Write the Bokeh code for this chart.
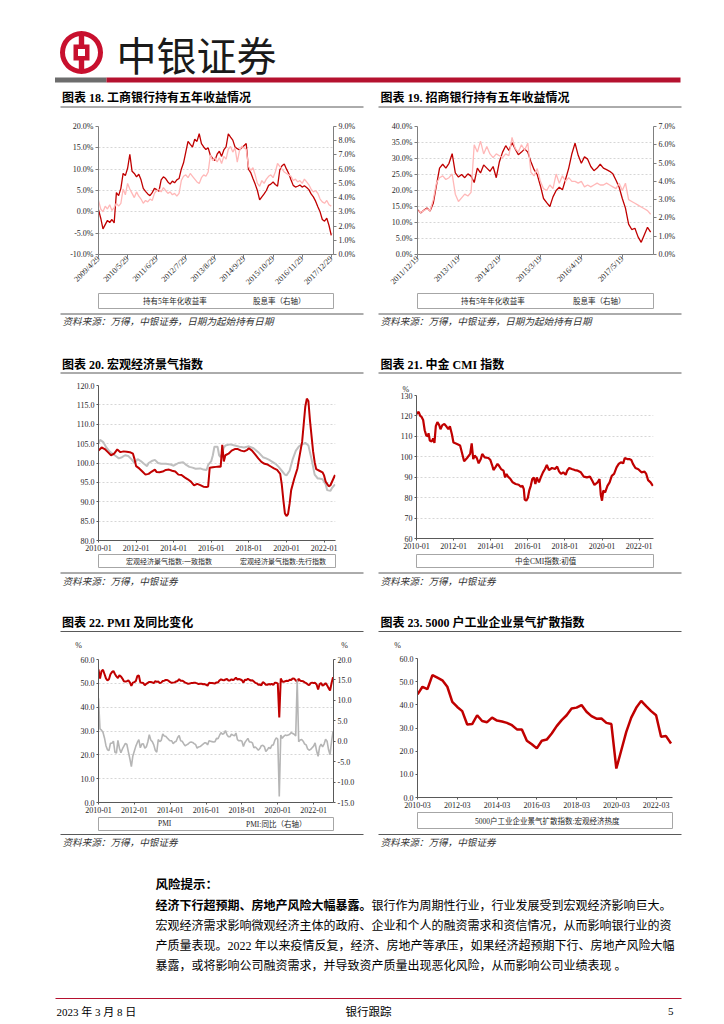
import math
from bokeh.plotting import figure
from bokeh.models import Range1d, LinearAxis, FixedTicker, Legend, LegendItem, PrintfTickFormatter, Title
from bokeh.layouts import column, row
from bokeh.core.properties import value
from bokeh.embed import file_html
from bokeh.resources import INLINE

# ---------------- data ----------------
# Fig 18: ICBC, monthly from 2009/4/29
icbc_ticks = ["2009/4/29", "2010/5/29", "2011/6/29", "2012/7/29", "2013/8/29",
              "2014/9/29", "2015/10/29", "2016/11/29", "2017/12/29"]
icbc_return = [0.5, -1.5, -4.0, -3.0, -2.0, -2.5, -1.8, -2.6, 4.5, 3.8,
               5.5, 9.0, 8.5, 10.2, 13.5, 9.5, 9.0, 8.2, 8.8, 7.5,
               5.5, 4.8, 4.2, 3.8, 4.5, 5.5, 5.2, 4.8, 7.5, 8.2,
               7.8, 7.0, 6.5, 7.2, 6.8, 7.5, 7.8, 10.0, 11.5, 14.0,
               16.5, 15.8, 15.2, 17.0, 16.5, 18.3, 16.0, 15.2, 14.6, 15.0,
               13.2, 12.5, 12.0, 13.5, 14.2, 13.0, 14.5, 15.2, 18.3, 17.5,
               16.8, 15.2, 14.8, 14.5, 15.0, 15.5, 16.0, 10.0, 9.2, 7.8,
               6.5, 5.0, 2.8, 3.5, 4.2, 5.0, 6.2, 6.5, 7.0, 6.4,
               6.0, 9.8, 10.8, 11.2, 10.0, 9.0, 7.5, 6.2, 5.8, 6.0,
               6.3, 5.8, 6.1, 5.7, 5.2, 4.2, 3.5, 2.5, 1.2, 0.0,
               -1.8, -2.2, -1.5, -3.2, -5.5]
icbc_yield = [3.8, 3.2, 3.0, 3.4, 3.2, 3.5, 3.1, 3.3, 3.6, 3.4,
              3.6, 4.6, 4.2, 5.0, 4.6, 4.3, 4.0, 4.4, 4.1, 3.9,
              3.6, 3.8, 3.7, 3.9, 3.8, 4.3, 4.5, 4.6, 4.4, 4.7,
              4.5, 4.3, 4.4, 4.2, 4.3, 4.1, 4.3, 5.2, 5.5, 5.6,
              5.4, 5.7, 5.5, 5.3, 5.1, 5.0, 5.4, 5.6, 5.5, 5.8,
              7.0, 6.6, 6.8, 6.5, 6.8, 6.4, 6.9, 6.7, 7.4, 7.6,
              7.2, 7.5, 6.5, 7.3, 7.6, 7.5, 7.4, 6.2, 5.9, 6.1,
              5.6, 5.0, 4.8, 5.2, 5.0, 5.3, 5.5, 5.6, 5.4, 5.8,
              6.4, 6.2, 6.0, 5.8, 5.7, 5.6, 5.5, 5.2, 5.3, 5.1,
              5.2, 5.0, 5.3, 5.1, 4.9, 4.6, 4.4, 4.5, 4.3, 3.9,
              3.7, 3.6, 3.8, 3.5, 3.4]

# Fig 19: CMB, monthly from 2011/12/19
cmb_ticks = ["2011/12/19", "2013/1/19", "2014/2/19", "2015/3/19", "2016/4/19", "2017/5/19"]
cmb_return = [14.0, 13.0, 13.8, 14.5, 13.6, 16.0, 21.5, 27.0, 28.2, 27.0,
              28.5, 31.5, 25.5, 24.2, 25.0, 24.0, 25.2, 24.5, 22.5, 27.0,
              25.5, 28.0, 27.0, 26.0, 27.5, 24.0, 29.0, 32.0, 34.0, 32.5,
              35.0, 33.0, 31.2, 32.0, 33.0, 32.0, 29.0, 26.5, 25.0, 21.5,
              17.5, 16.2, 15.0, 18.0, 20.0, 21.0, 20.2, 23.5, 27.0, 31.5,
              34.8, 31.0, 28.5, 30.5, 29.8, 27.5, 26.2, 27.0, 28.2, 27.0,
              26.5, 26.0, 25.2, 23.2, 21.0, 17.5, 14.5, 9.5, 7.8, 8.2,
              5.5, 3.8, 6.2, 8.5, 7.0]
cmb_yield = [2.4, 2.3, 2.4, 2.5, 2.4, 3.0, 3.9, 4.2, 4.3, 4.1,
             4.2, 4.4, 3.3, 2.9, 3.1, 3.3, 3.2, 3.4, 6.0, 5.6,
             6.2, 5.5, 5.9, 5.5, 5.3, 5.5, 5.4, 5.3, 5.5, 5.4,
             6.4, 5.8, 5.6, 6.0, 5.7, 6.1, 4.5, 4.3, 4.7, 4.0,
             3.6, 3.5, 3.8, 3.6, 4.4, 3.9, 4.3, 4.0, 4.2, 4.0,
             4.0, 3.9, 4.0, 3.7, 3.8, 3.7, 3.8, 3.9, 3.8, 3.8,
             3.9, 3.8, 3.7, 3.6, 3.9, 3.5, 3.9, 3.0, 2.9, 2.8,
             2.7, 2.6, 2.5, 2.4, 2.2]

# Year tick labels (monthly index 0 = 2010-01)
ticks_jan = ["2010-01", "2012-01", "2014-01", "2016-01", "2018-01", "2020-01", "2022-01"]
ticks_mar = ["2010-03", "2012-03", "2014-03", "2016-03", "2018-03", "2020-03", "2022-03"]

# Fig 20: macro climate index, (months since 2010-01, value)
cei_coincident = [(0, 103.2), (2, 104.0), (4, 103.6), (6, 102.8), (8, 102.0), (10, 102.4), (12, 103.5),
                  (14, 102.8), (16, 103.0), (18, 102.9), (20, 102.8), (22, 102.4), (23, 101.0), (24, 99.2),
                  (26, 98.6), (28, 97.8), (30, 97.0), (32, 97.2), (34, 97.8), (36, 98.3), (37, 97.7),
                  (39, 97.6), (41, 97.8), (43, 98.2), (45, 98.3), (47, 98.0), (49, 97.8), (51, 97.0),
                  (53, 96.9), (55, 96.3), (57, 95.8), (59, 95.2), (61, 94.2), (63, 94.6), (65, 94.3),
                  (67, 93.9), (69, 93.8), (70, 93.9), (71, 98.8), (73, 98.9), (75, 99.0), (77, 99.1),
                  (78, 99.0), (79, 104.7), (80, 100.4), (81, 102.0), (83, 102.4), (85, 103.2), (87, 103.6),
                  (89, 103.6), (91, 103.2), (93, 103.0), (95, 103.4), (96, 103.8), (98, 103.2), (100, 102.2),
                  (102, 101.2), (104, 100.3), (106, 99.8), (108, 99.6), (110, 99.1), (112, 98.6), (114, 98.2),
                  (116, 97.2), (117, 94.5), (118, 90.5), (119, 87.0), (120, 86.3), (121, 86.8), (122, 89.5),
                  (123, 93.0), (125, 96.0), (127, 98.6), (128, 101.0), (130, 105.5), (131, 110.0), (132, 114.5),
                  (133, 116.6), (134, 116.0), (135, 111.0), (137, 103.0), (138, 100.2), (139, 98.4), (141, 98.0),
                  (143, 97.6), (144, 96.8), (145, 95.2), (147, 94.0), (148, 94.2), (150, 96.0), (151, 96.9)]
cei_leading = [(0, 105.0), (1, 106.0), (3, 105.4), (5, 104.0), (7, 103.0), (9, 102.4), (11, 101.8),
               (13, 101.2), (15, 101.5), (17, 102.0), (19, 101.8), (21, 101.0), (23, 100.0), (25, 101.0),
               (27, 100.5), (29, 99.8), (31, 99.2), (32, 100.0), (34, 100.5), (36, 100.8), (38, 100.0),
               (40, 99.8), (43, 99.8), (46, 99.6), (48, 99.3), (51, 100.0), (54, 100.2), (56, 99.5),
               (58, 99.0), (60, 98.8), (62, 98.5), (65, 98.6), (67, 98.3), (69, 98.2), (70, 99.5),
               (72, 100.5), (73, 102.0), (74, 104.2), (76, 104.2), (77, 102.0), (78, 101.5), (79, 102.5),
               (80, 104.0), (81, 104.5), (84, 104.8), (87, 104.5), (90, 104.2), (93, 104.0), (96, 104.3),
               (99, 103.8), (102, 102.8), (105, 101.5), (107, 101.2), (109, 100.8), (111, 100.3), (113, 99.8),
               (115, 99.0), (117, 98.0), (119, 97.0), (120, 96.8), (122, 98.0), (124, 101.0), (126, 103.2),
               (128, 104.3), (130, 104.8), (132, 105.2), (134, 104.5), (136, 101.0), (138, 97.0), (140, 96.0),
               (141, 96.0), (143, 95.8), (145, 94.5), (146, 93.0), (148, 92.8), (149, 93.5), (151, 94.5)]

# Fig 21: CICC CMI index, (months since 2010-01, value)
cmi = [(0, 121.0), (1.4, 122.0), (2.4, 120.0), (3.3, 119.5), (4.3, 118.0), (5.3, 113.0), (6.3, 110.5),
       (7.3, 110.0), (7.8, 111.5), (8.6, 108.0), (9.8, 107.5), (10.8, 109.0), (11.6, 106.8), (12.5, 115.0),
       (13.5, 117.0), (14.7, 115.5), (15.5, 113.5), (16.7, 115.5), (18, 116.0), (19.4, 114.8), (20.6, 113.5),
       (21.6, 115.0), (22.9, 111.0), (23.9, 107.0), (25.5, 106.5), (26.9, 106.0), (28.2, 105.5), (29.4, 102.0),
       (30.8, 97.8), (32.7, 99.4), (34.7, 101.4), (35.7, 106.6), (36.7, 98.9), (37.6, 100.6), (39, 99.4),
       (40.2, 96.8), (41.6, 98.9), (42.5, 101.4), (44.1, 99.7), (46.5, 99.4), (47.8, 98.4), (49, 95.7),
       (49.8, 93.5), (51, 94.8), (52.4, 96.5), (53.3, 95.7), (54.7, 94.0), (56.3, 93.2), (57.3, 89.9),
       (58.2, 91.6), (59.2, 90.3), (60.8, 89.1), (62.2, 87.5), (64.1, 86.7), (66.1, 86.3), (67.5, 85.3),
       (68.6, 85.8), (69.4, 84.2), (70, 79.0), (71, 78.5), (72, 79.8), (72.9, 83.4), (73.9, 85.8),
       (74.9, 89.1), (75.9, 89.9), (76.9, 86.7), (77.8, 89.9), (79.2, 87.5), (80.4, 89.9), (81.8, 92.4),
       (83.1, 94.0), (84.3, 96.0), (85.7, 93.5), (87.6, 94.5), (89.6, 94.0), (91, 95.2), (92.2, 92.9),
       (93.5, 91.6), (94.9, 92.4), (96.5, 91.2), (97.5, 93.2), (98.8, 94.5), (100.4, 94.0), (102.4, 93.5),
       (104.3, 93.2), (106.3, 92.4), (108.2, 90.3), (110.2, 89.9), (112.2, 90.3), (113.7, 88.3), (115.1, 86.2),
       (117.1, 87.5), (118.4, 89.1), (119.2, 81.4), (120, 78.5), (120.8, 83.4), (122, 82.6), (123.5, 85.8),
       (124.9, 87.5), (126.3, 90.7), (127.8, 91.6), (129.4, 94.8), (130.8, 96.5), (132.2, 97.3), (133.7, 96.8),
       (134.7, 99.4), (136.3, 98.9), (137.6, 98.9), (139, 98.4), (140, 96.5), (141.6, 94.5), (143.5, 93.9),
       (145.5, 92.4), (147.5, 92.7), (148.6, 91.6), (149.8, 88.6), (151.4, 87.5), (152.9, 85.8)]

# Fig 22: PMI monthly 2010-01 .. 2023-02 and its YoY change (right axis)
pmi = [55.8, 52.0, 55.1, 55.7, 53.9, 52.1, 51.2, 51.7, 53.8, 54.7, 55.2, 53.9,
       52.9, 52.2, 53.4, 52.9, 52.0, 50.9, 50.7, 50.9, 51.2, 50.4, 49.0, 50.3,
       50.5, 51.0, 53.1, 53.3, 50.4, 50.2, 50.1, 49.2, 49.8, 50.2, 50.6, 50.6,
       50.4, 50.1, 50.9, 50.6, 50.8, 50.1, 50.3, 51.0, 51.1, 51.4, 51.4, 51.0,
       50.5, 50.2, 50.3, 50.4, 50.8, 51.0, 51.7, 51.1, 51.1, 50.8, 50.3, 50.1,
       49.8, 49.9, 50.1, 50.1, 50.2, 50.2, 50.0, 49.7, 49.8, 49.8, 49.6, 49.7,
       49.4, 49.0, 50.2, 50.1, 50.1, 50.0, 49.9, 50.4, 50.4, 51.2, 51.7, 51.4,
       51.3, 51.6, 51.8, 51.2, 51.2, 51.7, 51.4, 51.7, 52.4, 51.6, 51.8, 51.6,
       51.3, 50.3, 51.5, 51.4, 51.9, 51.5, 51.2, 51.3, 50.8, 50.2, 50.0, 49.4,
       49.5, 49.2, 50.5, 50.1, 49.4, 49.4, 49.7, 49.5, 49.8, 49.3, 50.2, 50.2,
       50.0, 35.7, 52.0, 50.8, 50.6, 50.9, 51.1, 51.0, 51.5, 51.4, 52.1, 51.9,
       51.3, 50.6, 51.9, 51.1, 51.0, 50.9, 50.4, 50.1, 49.6, 49.2, 50.1, 50.3,
       50.1, 50.2, 49.5, 47.4, 49.6, 50.2, 49.0, 49.4, 50.1, 49.2, 48.0, 47.0,
       50.1, 52.6]
pmi_yoy = [10.5, 3.0, 2.7, 2.2, 0.8, -1.1, -2.1, -2.3, -0.5, -0.5, 0.0, -2.7,
           -2.9, 0.2, -1.7, -2.8, -1.9, -1.2, -0.5, -0.8, -2.6, -4.3, -6.2, -3.6,
           -2.4, -1.2, -0.3, 0.4, -1.6, -0.7, -0.6, -1.7, -1.4, -0.2, 1.6, 0.3,
           -0.1, -0.9, -2.2, -2.7, 0.4, -0.1, 0.2, 1.8, 1.3, 1.2, 0.8, 0.4,
           0.1, 0.1, -0.6, -0.2, 0.0, 0.9, 1.4, 0.1, 0.0, -0.6, -1.1, -0.9,
           -0.7, -0.3, -0.2, -0.3, -0.6, -0.8, -1.7, -1.4, -1.3, -1.0, -0.7, -0.4,
           -0.4, -0.9, 0.1, 0.0, -0.1, -0.2, -0.1, 0.7, 0.6, 1.4, 2.1, 1.7,
           1.9, 2.6, 1.6, 1.1, 1.1, 1.7, 1.5, 1.3, 2.0, 0.4, 0.1, 0.2,
           0.0, -1.3, -0.3, 0.2, 0.7, -0.2, -0.2, -0.4, -1.6, -1.4, -1.8, -2.2,
           -1.8, -1.1, -1.0, -1.3, -2.5, -2.1, -1.5, -1.8, -1.0, -0.9, 0.2, 0.8,
           0.5, -13.5, 1.5, 0.7, 1.2, 1.5, 1.4, 1.5, 1.7, 2.1, 1.9, 1.7,
           1.3, 14.9, -0.1, 0.3, 0.4, 0.0, -0.7, -0.9, -1.9, -2.2, -2.0, -1.6,
           -1.2, -0.4, -2.4, -3.7, -1.4, -0.7, -1.4, -0.7, 0.5, 0.0, -2.1, -3.3,
           0.0, 2.4]

# Fig 23: 5000 industrial enterprises diffusion index, quarterly 2010Q1 .. 2022Q4
diffusion = [44.5, 47.8, 46.8, 52.8, 51.7, 50.6, 47.8, 41.3, 39.1, 37.3,
             31.5, 31.7, 35.5, 33.0, 32.5, 34.5, 33.2, 32.8, 32.2, 31.2,
             29.4, 29.4, 24.5, 23.0, 21.2, 24.5, 25.0, 27.6, 30.8, 33.4,
             35.5, 38.4, 38.8, 39.9, 37.0, 35.1, 34.0, 34.1, 32.2, 31.7,
             12.5, 20.4, 28.3, 34.5, 38.7, 41.7, 39.4, 37.3, 35.5, 26.2,
             26.5, 23.3]

# ---------------- styling ----------------
SERIF = "Liberation Serif, Noto Sans CJK SC"
CJK = "Noto Sans CJK SC"
RED = "#c00000"
PINK = "#ffb8b8"
GRAY = "#bfbfbf"
AX = "#7f7f7f"
TXT = "#262626"
LW, RW = 362, 346   # widths of left / right page columns


def style_axis(ax, color=AX, size="8px", tick_out=3):
    ax.axis_line_color = color
    ax.major_tick_line_color = color
    ax.major_tick_out = tick_out
    ax.major_tick_in = 0
    ax.minor_tick_line_color = None
    ax.major_label_text_font = SERIF
    ax.major_label_text_font_size = size
    ax.major_label_text_color = TXT
    ax.major_label_standoff = 2


def chart(w, h, l, r, t, b, xr, yr, grid=True):
    p = figure(width=w, height=h, x_range=Range1d(*xr), y_range=Range1d(*yr),
               output_backend="svg", toolbar_location=None,
               min_border_left=l, min_border_right=r, min_border_top=t, min_border_bottom=b)
    p.outline_line_color = None
    p.xgrid.visible = False
    if grid:
        p.ygrid.grid_line_color = "#cccccc"
        p.ygrid.grid_line_dash = "2 2"
        p.ygrid.grid_line_width = 0.8
    else:
        p.ygrid.visible = False
    return p


def legend_fig(w, h, l, r, t, b, entries, vx, label_w, spacing, size):
    f = figure(width=w, height=h, x_range=Range1d(0, 1), y_range=Range1d(0, 1),
               x_axis_type=None, y_axis_type=None, output_backend="svg", toolbar_location=None,
               min_border_left=l, min_border_right=r, min_border_top=t, min_border_bottom=b)
    f.outline_line_color = "#a6a6a6"
    f.outline_line_width = 1
    f.grid.visible = False
    items = []
    for text, color, lw in entries:
        rr = f.line(x=[], y=[], line_color=color, line_width=lw)
        items.append(LegendItem(label=value(text), renderers=[rr]))
    fh = h - t - b
    lg = Legend(items=items, orientation="horizontal", location=(vx, (fh - 11) / 2.0),
                padding=0, margin=0, spacing=spacing, label_standoff=2,
                glyph_width=16, glyph_height=11, label_height=11, label_width=label_w,
                border_line_color=None, background_fill_alpha=0,
                label_text_font=SERIF, label_text_font_size=size, label_text_color=TXT)
    f.add_layout(lg, "center")
    return f


def canvas(y0, y1):
    c = figure(width=708, height=y1 - y0, x_range=Range1d(0, 708), y_range=Range1d(y1, y0),
               x_axis_type=None, y_axis_type=None, output_backend="svg", toolbar_location=None,
               min_border=0)
    c.outline_line_color = None
    c.grid.visible = False
    return c


def put(c, x, y, s, size, style="normal", color="#000000", align="left", font=SERIF):
    c.text(x=[x], y=[y], text=[s], text_font=value(font), text_font_size=value(size),
           text_font_style=style, text_color=color, text_align=align, text_baseline="middle")


def hline(c, x0, x1, y, color="#595959", width=1.0):
    c.segment(x0=[x0], y0=[y], x1=[x1], y1=[y], line_color=color, line_width=width)


# ---------------- Fig 18 ----------------
p18 = chart(LW, 182, 98, 29, 16, 33, (0, 105), (-10, 20))
p18.extra_y_ranges = {"right": Range1d(0, 9)}
m18 = list(range(len(icbc_return)))
p18.line(m18, icbc_return, line_color=RED, line_width=1.3)
p18.line(m18, icbc_yield, line_color=PINK, line_width=1.3, y_range_name="right")
p18.yaxis.ticker = FixedTicker(ticks=[-10, -5, 0, 5, 10, 15, 20])
p18.yaxis.formatter = PrintfTickFormatter(format="%.1f%%")
r18 = LinearAxis(y_range_name="right", ticker=FixedTicker(ticks=list(range(0, 10))),
                 formatter=PrintfTickFormatter(format="%.1f%%"))
p18.add_layout(r18, "right")
t18 = [13 * i for i in range(len(icbc_ticks))]
p18.xaxis.ticker = FixedTicker(ticks=t18)
p18.xaxis.major_label_overrides = dict(zip(t18, icbc_ticks))
p18.xaxis.major_label_orientation = math.pi / 4
for ax in p18.axis:
    style_axis(ax)
p18.xaxis.major_label_standoff = 0
leg18 = legend_fig(LW, 18, 98, 29, 1, 2,
                   [("持有5年年化收益率", RED, 2), ("股息率（右轴）", PINK, 2)],
                   27, 70, 22, "7.5px")

# ---------------- Fig 19 ----------------
p19 = chart(RW, 182, 52, 54, 16, 33, (0, 74.9), (0, 40))
p19.extra_y_ranges = {"right": Range1d(0, 7)}
m19 = list(range(len(cmb_return)))
p19.line(m19, cmb_return, line_color=RED, line_width=1.3)
p19.line(m19, cmb_yield, line_color=PINK, line_width=1.3, y_range_name="right")
p19.yaxis.ticker = FixedTicker(ticks=list(range(0, 45, 5)))
p19.yaxis.formatter = PrintfTickFormatter(format="%.1f%%")
r19 = LinearAxis(y_range_name="right", ticker=FixedTicker(ticks=list(range(0, 8))),
                 formatter=PrintfTickFormatter(format="%.1f%%"))
p19.add_layout(r19, "right")
t19 = [13 * i for i in range(len(cmb_ticks))]
p19.xaxis.ticker = FixedTicker(ticks=t19)
p19.xaxis.major_label_overrides = dict(zip(t19, cmb_ticks))
p19.xaxis.major_label_orientation = math.pi / 4
for ax in p19.axis:
    style_axis(ax)
p19.xaxis.major_label_standoff = 0
leg19 = legend_fig(RW, 18, 55, 55, 1, 2,
                   [("持有5年年化收益率", RED, 2), ("股息率（右轴）", PINK, 2)],
                   26, 70, 24, "7.5px")

# ---------------- Fig 20 ----------------
p20 = chart(LW, 179, 93, 12, 10, 14, (0, 151.3), (80, 120))
p20.line([m for m, v in cei_leading], [v for m, v in cei_leading], line_color=GRAY, line_width=2)
p20.line([m for m, v in cei_coincident], [v for m, v in cei_coincident], line_color=RED, line_width=2)
p20.yaxis.ticker = FixedTicker(ticks=list(range(80, 125, 5)))
p20.yaxis.formatter = PrintfTickFormatter(format="%.1f")
tj = [24 * i for i in range(len(ticks_jan))]
p20.xaxis.ticker = FixedTicker(ticks=tj)
p20.xaxis.major_label_overrides = dict(zip(tj, ticks_jan))
for ax in p20.axis:
    style_axis(ax, color="#595959", tick_out=2)
leg20 = legend_fig(LW, 16, 98, 27, 0, 3,
                   [("宏观经济景气指数:一致指数", RED, 2), ("宏观经济景气指数:先行指数", GRAY, 2)],
                   10, 88, 8, "7px")

# ---------------- Fig 21 ----------------
p21 = chart(RW, 179, 49, 36, 20, 16, (0, 153.3), (60, 130))
p21.line([m for m, v in cmi], [v for m, v in cmi], line_color=RED, line_width=2.2)
p21.yaxis.ticker = FixedTicker(ticks=list(range(60, 140, 10)))
p21.yaxis.formatter = PrintfTickFormatter(format="%d")
p21.xaxis.ticker = FixedTicker(ticks=tj)
p21.xaxis.major_label_overrides = dict(zip(tj, ticks_jan))
for ax in p21.axis:
    style_axis(ax, color="#595959", tick_out=2)
p21.add_layout(Title(text="%", align="left", offset=-14, standoff=3, text_font=SERIF,
                     text_font_size="8px", text_font_style="normal", text_color=TXT), "above")
leg21 = legend_fig(RW, 16, 54, 55, 0, 3, [("中金CMI指数:初值", RED, 2.5)], 81, 10, 0, "7.5px")

# ---------------- Fig 22 ----------------
p22 = chart(LW, 165, 89, 27, 9, 13, (0, 157.3), (0, 60))
p22.extra_y_ranges = {"right": Range1d(-15, 20)}
m22 = list(range(len(pmi)))
p22.line(m22, pmi, line_color=RED, line_width=2)
p22.line(m22, pmi_yoy, line_color="#b5b5b5", line_width=1.6, y_range_name="right")
p22.yaxis.ticker = FixedTicker(ticks=list(range(0, 70, 10)))
p22.yaxis.formatter = PrintfTickFormatter(format="%.1f")
r22 = LinearAxis(y_range_name="right", ticker=FixedTicker(ticks=list(range(-15, 25, 5))),
                 formatter=PrintfTickFormatter(format="%.1f"))
p22.add_layout(r22, "right")
p22.xaxis.ticker = FixedTicker(ticks=tj)
p22.xaxis.major_label_overrides = dict(zip(tj, ticks_jan))
for ax in p22.axis:
    style_axis(ax, color="#595959", tick_out=2)
leg22 = legend_fig(LW, 18, 98, 29, 2, 3,
                   [("PMI", RED, 2.5), ("PMI:同比（右轴）", "#b5b5b5", 2)],
                   42, 60, 10, "7.5px")

# ---------------- Fig 23 ----------------
p23 = chart(RW, 161, 50, 35, 8, 14, (0, 51.3), (0, 60), grid=False)
p23.line(list(range(len(diffusion))), diffusion, line_color=RED, line_width=2.5)
p23.yaxis.ticker = FixedTicker(ticks=list(range(0, 70, 10)))
p23.yaxis.formatter = PrintfTickFormatter(format="%.1f")
tq = [8 * i for i in range(len(ticks_mar))]
p23.xaxis.ticker = FixedTicker(ticks=tq)
p23.xaxis.major_label_overrides = dict(zip(tq, ticks_mar))
for ax in p23.axis:
    style_axis(ax, color="#595959", tick_out=2)
leg23 = legend_fig(RW, 22, 55, 36, 1, 5, [("5000户工业企业景气扩散指数:宏观经济热度", RED, 2.5)],
                   40, 10, 0, "7.5px")

# ---------------- page canvases ----------------
BOC_RED = "#c8102e"
SRC = "#333333"

cA = canvas(0, 110)
cA.annulus(x=[81], y=[52], inner_radius=16.5, outer_radius=21.5, fill_color=BOC_RED, line_color=None)
cA.quad(left=[78.3], right=[83.7], top=[35], bottom=[69], fill_color=BOC_RED, line_color=None)
cA.quad(left=[73], right=[89], top=[44], bottom=[60], fill_color=BOC_RED, line_color=None)
cA.quad(left=[77.5], right=[84.5], top=[48.5], bottom=[55.5], fill_color="white", line_color=None)
put(cA, 116, 53, "中银证券", "40px", color="#1a1a1a", font=CJK)
cA.quad(left=[54.5], right=[106], top=[77], bottom=[82], fill_color="#6d6d6d", line_color=None)
cA.quad(left=[106], right=[680], top=[77], bottom=[82], fill_color="#b5112f", line_color=None)
put(cA, 61.5, 97.5, "图表 18. 工商银行持有五年收益情况", "12px", style="bold")
put(cA, 380, 97.5, "图表 19. 招商银行持有五年收益情况", "12px", style="bold")
hline(cA, 60, 363, 106.5)
hline(cA, 378, 681, 106.5)

cC = canvas(310, 375)
hline(cC, 60, 363, 313.5)
hline(cC, 378, 681, 313.5)
put(cC, 62, 321, "资料来源：万得，中银证券，日期为起始持有日期", "9.6px", style="italic", color=SRC)
put(cC, 380, 321, "资料来源：万得，中银证券，日期为起始持有日期", "9.6px", style="italic", color=SRC)
put(cC, 61.5, 364, "图表 20. 宏观经济景气指数", "12px", style="bold")
put(cC, 380, 364, "图表 21. 中金 CMI 指数", "12px", style="bold")
hline(cC, 60, 363, 372.5)
hline(cC, 378, 681, 372.5)

cE = canvas(570, 650)
hline(cE, 60, 363, 572.5)
hline(cE, 378, 681, 572.5)
put(cE, 62, 580.5, "资料来源：万得，中银证券", "9.6px", style="italic", color=SRC)
put(cE, 380, 580.5, "资料来源：万得，中银证券", "9.6px", style="italic", color=SRC)
put(cE, 61.5, 622, "图表 22. PMI 及同比变化", "12px", style="bold")
put(cE, 380, 622, "图表 23. 5000 户工业企业景气扩散指数", "12px", style="bold")
hline(cE, 60, 363, 631)
hline(cE, 378, 681, 631)
# axis unit marks of Fig 22 / Fig 23
put(cE, 78, 644.5, "%", "8px", color=TXT, align="center")
put(cE, 344, 644.5, "%", "8px", color=TXT, align="center")
put(cE, 397, 645, "%", "8px", color=TXT, align="center")

cG = canvas(833, 1022)
hline(cG, 60, 363, 834)
hline(cG, 378, 681, 834)
put(cG, 62, 841.5, "资料来源：万得，中银证券", "9.6px", style="italic", color=SRC)
put(cG, 380, 841.5, "资料来源：万得，中银证券", "9.6px", style="italic", color=SRC)
put(cG, 155, 884, "风险提示：", "12.5px", style="bold")
put(cG, 155, 905, "经济下行超预期、房地产风险大幅暴露。", "12px", style="bold")
put(cG, 371, 905, "银行作为周期性行业，行业发展受到宏观经济影响巨大。", "12px")
put(cG, 155, 925, "宏观经济需求影响微观经济主体的政府、企业和个人的融资需求和资信情况，从而影响银行业的资", "12px")
put(cG, 155, 945, "产质量表现。2022 年以来疫情反复，经济、房地产等承压，如果经济超预期下行、房地产风险大幅", "12px")
put(cG, 155, 965, "暴露，或将影响公司融资需求，并导致资产质量出现恶化风险，从而影响公司业绩表现 。", "12px")
hline(cG, 55, 681, 998, color="#b5112f", width=1.2)
put(cG, 56, 1011, "2023 年 3 月 8 日", "11px")
put(cG, 368, 1011, "银行跟踪", "11.5px", align="center")
put(cG, 673, 1011, "5", "11px", align="right")

# ---------------- layout ----------------
rowB = row(column(p18, leg18), column(p19, leg19))
rowD = row(column(p20, leg20), column(p21, leg21))
rowF = row(column(p22, leg22), column(p23, leg23))
page = column(cA, rowB, cC, rowD, cE, rowF, cG)

open("out.html", "w").write(file_html(page, INLINE))
